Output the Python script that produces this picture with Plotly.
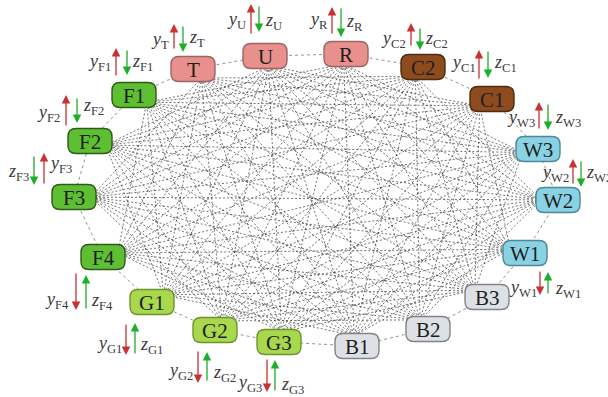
import itertools
import plotly.graph_objects as go

# Nodes of the network, listed around the ring
nodes = ["T", "U", "R", "C2", "C1", "W3", "W2", "W1", "B3", "B2",
         "B1", "G3", "G2", "G1", "F4", "F3", "F2", "F1"]
groups = ["s", "s", "s", "c", "c", "w", "w", "w", "b", "b",
          "b", "g", "g", "g", "f", "f", "f", "f"]

# Node layout (pixel space, y grows downward)
node_x = [193, 265, 346, 423, 492, 538, 558, 525, 487, 428,
          357, 279, 215, 152, 103, 74, 90, 134]
node_y = [69, 56, 54, 67, 99, 149, 200, 253, 297, 329,
          346, 342, 330, 302, 257, 197, 141, 95]

# Nodes carrying y/z signal arrows
arrow_nodes = ["T", "U", "R", "C2", "C1", "W3", "W2", "W1",
               "G3", "G2", "G1", "F4", "F3", "F2", "F1"]

fill = {"s": "#E8908C", "c": "#8E4C1E", "w": "#88D2E4", "b": "#DDE0E4",
        "g": "#A8D84C", "f": "#5FBF33"}
edge_col = {"s": "#9C6462", "c": "#4E2A10", "w": "#4F8796", "b": "#80858A",
            "g": "#6E9432", "f": "#2E5C16"}

# Arrow geometry per node: (y_x, y_tail, y_head, z_x, z_tail, z_head,
#                           y_label_x, y_label_y, z_label_x, z_label_y)
arrows = {
    "T":  (174, 50, 24, 183, 25, 52, 171, 40, 187, 38),
    "U":  (251, 35, 4, 259, 5, 32, 248, 20, 263, 21),
    "R":  (332, 35, 7, 341, 7, 37, 330, 20, 344, 22),
    "C2": (411, 47, 23, 420, 27, 50, 408, 39, 423, 39),
    "C1": (479, 80, 50, 488, 50, 78, 478, 63, 492, 63),
    "W3": (539, 130, 102, 548, 103, 130, 537, 118, 553, 118),
    "W2": (573, 185, 159, 581, 160, 187, 571, 173, 584, 173),
    "W1": (540, 270, 295, 548, 295, 272, 539, 288, 553, 289),
    "G3": (267, 358, 392, 275, 392, 360, 264, 383, 279, 385),
    "G2": (198, 350, 383, 207, 382, 352, 195, 371, 211, 373),
    "G1": (126, 323, 355, 135, 355, 323, 124, 344, 138, 345),
    "F4": (76, 272, 310, 86, 310, 275, 71, 300, 89, 301),
    "F3": (44, 185, 153, 34, 155, 185, 47, 164, 31, 172),
    "F2": (66, 127, 95, 77, 97, 123, 62, 113, 81, 106),
    "F1": (116, 77, 48, 127, 49, 75, 113, 62, 130, 62),
}

W, H = 608, 397
BW, BH, RAD = 44, 25, 8
INNER = 0.93  # couplings attach slightly inside each node, toward the centre

fig = go.Figure()

n = len(nodes)
cx0 = sum(node_x) / n
cy0 = sum(node_y) / n
in_x = [cx0 + INNER * (x - cx0) for x in node_x]
in_y = [cy0 + INNER * (y - cy0) for y in node_y]

# Long-range couplings between nodes that are not close on the ring
ex, ey = [], []
for i, j in itertools.combinations(range(n), 2):
    d = min((j - i) % n, (i - j) % n)
    if d <= 2:
        continue
    ex += [in_x[i], in_x[j], None]
    ey += [in_y[i], in_y[j], None]
fig.add_trace(go.Scatter(x=ex, y=ey, mode="lines", hoverinfo="skip",
                         line=dict(color="rgba(50,50,50,0.85)", width=0.8,
                                   dash="2px,2px")))

# Ring links between neighbouring nodes
rx, ry = [], []
for i in range(n):
    j = (i + 1) % n
    rx += [node_x[i], node_x[j], None]
    ry += [node_y[i], node_y[j], None]
fig.add_trace(go.Scatter(x=rx, y=ry, mode="lines", hoverinfo="skip",
                         line=dict(color="rgba(120,120,120,0.8)", width=1,
                                   dash="3px,3px")))


def rounded_box(cx, cy, w, h, r):
    x0, x1 = cx - w / 2, cx + w / 2
    y0, y1 = cy - h / 2, cy + h / 2
    return (f"M {x0 + r},{y0} L {x1 - r},{y0} Q {x1},{y0} {x1},{y0 + r} "
            f"L {x1},{y1 - r} Q {x1},{y1} {x1 - r},{y1} L {x0 + r},{y1} "
            f"Q {x0},{y1} {x0},{y1 - r} L {x0},{y0 + r} Q {x0},{y0} {x0 + r},{y0} Z")


shapes = []
annotations = []
for name, g, cx, cy in zip(nodes, groups, node_x, node_y):
    shapes.append(dict(type="path", path=rounded_box(cx, cy, BW, BH, RAD),
                       xref="x", yref="y", fillcolor=fill[g],
                       line=dict(color=edge_col[g], width=1.4), layer="above"))
    annotations.append(dict(x=cx, y=cy + 1, xref="x", yref="y", text=name,
                            showarrow=False,
                            font=dict(family="Liberation Serif", size=21,
                                      color="#1E1E1E")))

red, green = "#C83232", "#1FAE2A"
lab_font = dict(family="Liberation Serif", size=18, color="#3A3A3A")
for name in arrow_nodes:
    yx, yt, yh, zx, zt, zh, ylx, yly, zlx, zly = arrows[name]
    for ax_x, tail, head, col in ((yx, yt, yh, red), (zx, zt, zh, green)):
        annotations.append(dict(x=ax_x, y=head, ax=ax_x, ay=tail,
                                xref="x", yref="y", axref="x", ayref="y",
                                text="", showarrow=True, arrowhead=2,
                                arrowsize=1.3, arrowwidth=1.3, arrowcolor=col,
                                standoff=0, startstandoff=0))
    y_right = name != "F3"
    annotations.append(dict(x=ylx, y=yly, xref="x", yref="y",
                            text=f"<i>y</i><sub>{name}</sub>", showarrow=False,
                            xanchor="right" if y_right else "left",
                            yanchor="middle", font=lab_font))
    annotations.append(dict(x=zlx, y=zly, xref="x", yref="y",
                            text=f"<i>z</i><sub>{name}</sub>", showarrow=False,
                            xanchor="left" if y_right else "right",
                            yanchor="middle", font=lab_font))

fig.update_layout(
    width=W, height=H, margin=dict(l=0, r=0, t=0, b=0),
    paper_bgcolor="white", plot_bgcolor="white", showlegend=False,
    xaxis=dict(range=[0, W], visible=False, fixedrange=True),
    yaxis=dict(range=[H, 0], visible=False, fixedrange=True),
    shapes=shapes, annotations=annotations,
)

fig.write_html("out.html")
